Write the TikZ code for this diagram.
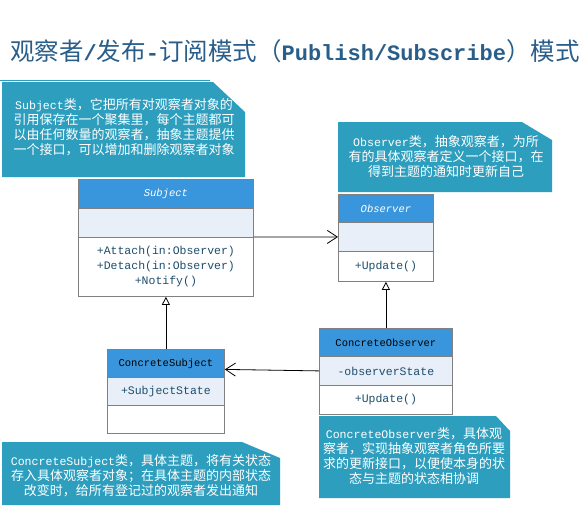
\documentclass[tikz,border=0pt]{standalone}
\usepackage{fontspec}
\usetikzlibrary{arrows.meta}
\newfontfamily\cjkf{Noto Sans CJK SC}
\newfontfamily\monof{Liberation Mono}
\definecolor{titleblue}{RGB}{42,94,138}
\definecolor{noteteal}{RGB}{45,158,190}
\definecolor{hdrblue}{RGB}{58,150,220}
\definecolor{attrbg}{RGB}{232,239,248}
\definecolor{boxgray}{RGB}{128,128,128}
\definecolor{optext}{RGB}{30,78,110}
\newcommand{\tlat}[1]{{\monof\bfseries\fontsize{22}{26}\selectfont #1}}
\newcommand{\latw}[1]{{\monof\fontsize{11.6}{15}\selectfont #1}}
\tikzset{
  sect/.style={draw=boxgray, line width=0.8pt, inner sep=0pt, anchor=north west, align=center},
  hdr/.style={sect, fill=hdrblue, font=\monof\fontsize{10.5}{12}\selectfont},
  attrsec/.style={sect, fill=attrbg, text=optext, font=\monof\fontsize{11.5}{15}\selectfont},
  opssec/.style={sect, fill=white, text=optext, font=\monof\fontsize{11.5}{15}\selectfont},
  notetext/.style={text=white, align=center, inner sep=0pt, font=\cjkf\fontsize{13}{15}\selectfont},
  assoc/.style={line width=0.8pt, -{Straight Barb[length=10pt,width=13pt]}},
  inherit/.style={line width=0.8pt, -{Triangle[open, length=8pt, width=8pt, fill=white]}}
}
\begin{document}
\begin{tikzpicture}[x=1pt, y=-1pt]
\useasboundingbox (0,0) rectangle (588,507);
\fill[white] (0,0) rectangle (588,507);
% title
\node[anchor=west, text=titleblue, inner sep=0pt] (title) at (10,51)
  {\cjkf\fontsize{24.5}{26}\selectfont 观察者\tlat{/}发布\tlat{-}订阅模式（\tlat{Publish/Subscribe}）模式};
\draw[noteteal, line width=1pt] (0,80) -- (210,80);
% notes
\fill[noteteal] (2,82) -- (213,82) -- (245,112) -- (245,177) -- (2,177) -- cycle;
\node[notetext] (subjnote) at (124,127)
  {\latw{Subject}类，它把所有对观察者对象的\\引用保存在一个聚集里，每个主题都可\\以由任何数量的观察者，抽象主题提供\\一个接口，可以增加和删除观察者对象};
\fill[noteteal] (338,122) -- (522,122) -- (552,140) -- (552,192) -- (338,192) -- cycle;
\node[notetext] (obsnote) at (446,157)
  {\latw{Observer}类，抽象观察者，为所\\有的具体观察者定义一个接口，在\\得到主题的通知时更新自己};
\fill[noteteal] (2,442) -- (242,442) -- (280,458) -- (280,505) -- (2,505) -- cycle;
\node[notetext] (csnote) at (141,475.5)
  {\latw{ConcreteSubject}类，具体主题，将有关状态\\存入具体观察者对象；在具体主题的内部状态\\改变时，给所有登记过的观察者发出通知};
\fill[noteteal] (319,416) -- (496,416) -- (510,431) -- (510,498) -- (319,498) -- cycle;
\node[notetext] (conote) at (414,456.5)
  {\latw{ConcreteObserver}类，具体观\\察者，实现抽象观察者角色所要\\求的更新接口，以便使本身的状\\态与主题的状态相协调};
% Subject class
\node[hdr, text=white, minimum width=175pt, minimum height=29pt] (subjhdr) at (78,179) {\itshape Subject};
\node[attrsec, minimum width=175pt, minimum height=29pt] (subjattr) at (78,208) {};
\node[opssec, minimum width=175pt, minimum height=59pt] (subjops) at (78,237) {+Attach(in:Observer)\\+Detach(in:Observer)\\+Notify()};
% Observer class
\node[hdr, text=white, minimum width=95pt, minimum height=28pt] (obshdr) at (338,194) {\itshape Observer};
\node[attrsec, minimum width=95pt, minimum height=29pt] (obsattr) at (338,222) {};
\node[opssec, minimum width=95pt, minimum height=30pt] (obsops) at (338,251) {+Update()};
% ConcreteSubject class
\node[hdr, text=black, minimum width=117pt, minimum height=28pt] (cshdr) at (107,349) {ConcreteSubject};
\node[attrsec, minimum width=117pt, minimum height=28pt] (csattr) at (107,377) {+SubjectState};
\node[opssec, minimum width=117pt, minimum height=28pt] (csops) at (107,405) {};
% ConcreteObserver class
\node[hdr, text=black, minimum width=133pt, minimum height=28pt] (cohdr) at (319,328) {ConcreteObserver};
\node[attrsec, minimum width=133pt, minimum height=29pt] (coattr) at (319,356) {-observerState};
\node[opssec, minimum width=133pt, minimum height=29pt] (coops) at (319,385) {+Update()};
% connectors
\draw[assoc] (subjops.north east) -- (obsattr.west);
\draw[inherit] (cshdr.north) -- (cshdr.north |- subjops.south);
\draw[inherit] (cohdr.north) -- (cohdr.north |- obsops.south);
\coordinate (csin) at ([yshift=-6pt]cshdr.east);
\draw[assoc] (coattr.west) -- (csin);
\end{tikzpicture}
\end{document}
